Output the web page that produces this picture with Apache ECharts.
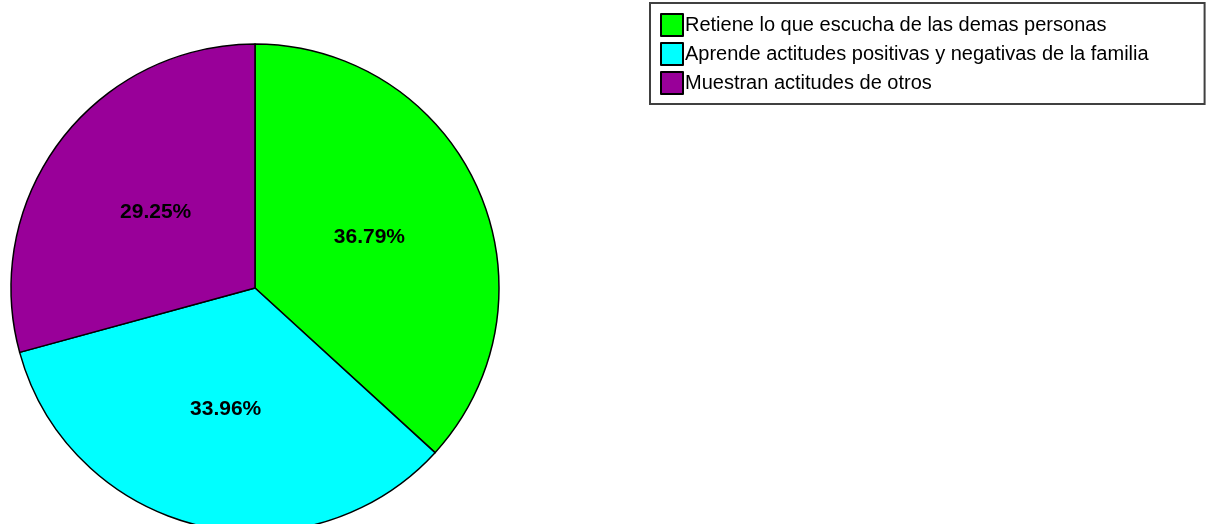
<!DOCTYPE html>
<html><head><meta charset="utf-8">
<script src="https://cdn.jsdelivr.net/npm/echarts@6/dist/echarts.min.js"></script>
<style>html,body{margin:0;padding:0;background:#fff}#c{width:1207px;height:524px}</style>
</head><body><div id="c"></div>
<script>
const categories = ['Retiene lo que escucha de las demas personas','Aprende actitudes positivas y negativas de la familia','Muestran actitudes de otros'];
const values = [36.79, 33.96, 29.25];
const colors = ['#00ff00','#00ffff','#990099'];

const chart = echarts.init(document.getElementById('c'), null, {renderer:'canvas'});
chart.setOption({
  animation:false,
  legend:{
    orient:'vertical', left:650, top:3,
    padding:[10,56,9,10],
    borderColor:'#404040', borderWidth:2,
    itemWidth:22, itemHeight:22, itemGap:5,
    icon:'rect',
    itemStyle:{borderColor:'#000', borderWidth:2},
    textStyle:{fontFamily:'Liberation Sans, Arial', fontSize:20, color:'#000', padding:[0,0,0,-3]},
    selectedMode:false,
    data:categories
  },
  series:[{
    type:'pie',
    center:[255,288], radius:[0,244],
    startAngle:90, clockwise:true,
    itemStyle:{borderColor:'#000', borderWidth:1.5},
    label:{show:true, position:'inside', formatter:p=>p.value.toFixed(2)+'%',
      fontFamily:'Liberation Sans, Arial', fontWeight:'bold', fontSize:21, color:'#000'},
    labelLine:{show:false},
    emphasis:{disabled:true},
    data:categories.map((c,i)=>({name:c, value:values[i], itemStyle:{color:colors[i]}}))
  }]
});
</script></body></html>
